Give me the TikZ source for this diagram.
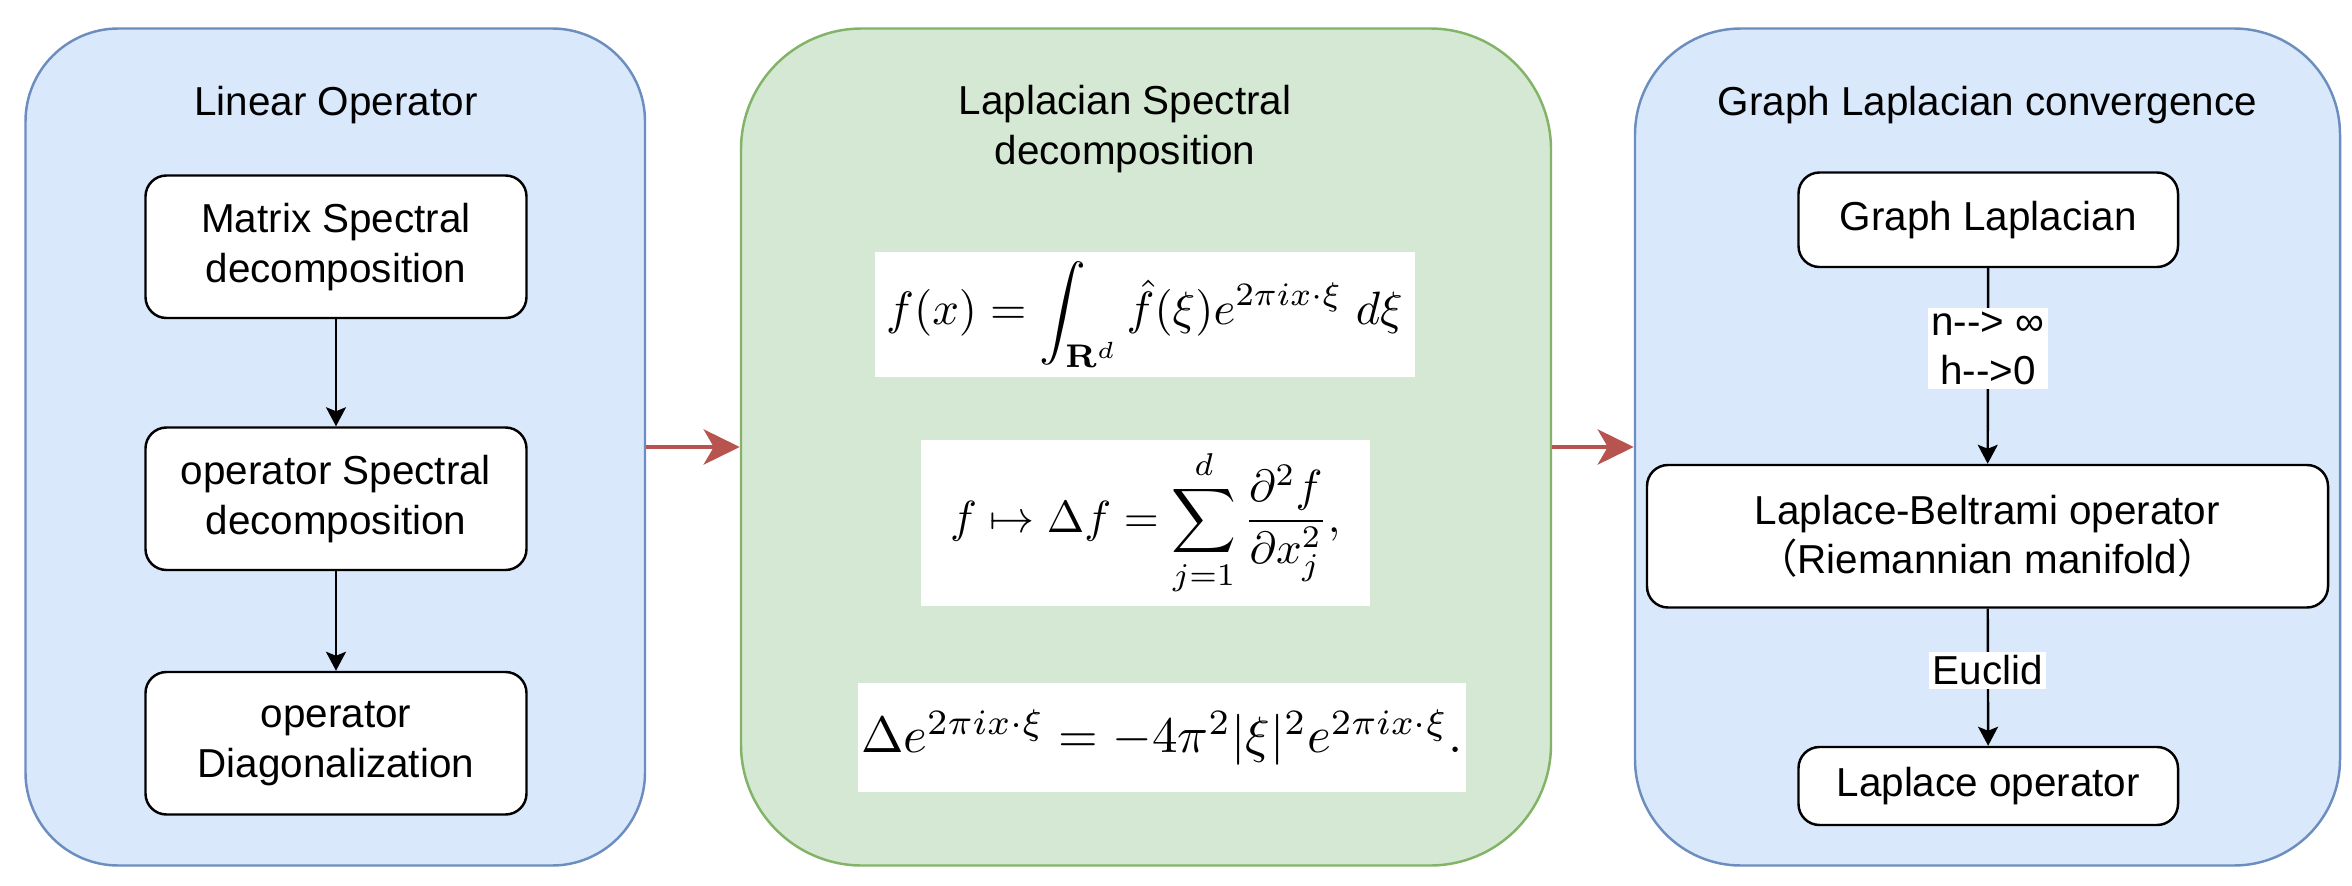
\documentclass[tikz,border=0pt]{standalone}
\usepackage{amsmath}
\usepackage[no-math]{fontspec}
\setmainfont{Liberation Sans}
\newfontfamily\cjk{Noto Sans CJK SC}
\usetikzlibrary{arrows.meta}
\definecolor{bluefill}{HTML}{DAE8FC}
\definecolor{blueline}{HTML}{6C8EBF}
\definecolor{greenfill}{HTML}{D5E8D4}
\definecolor{greenline}{HTML}{82B366}
\definecolor{arrowred}{HTML}{B85450}
\begin{document}
\begin{tikzpicture}[x=1cm,y=-1cm,font=\fontsize{11.5}{14.2}\selectfont,
    panel/.style={rounded corners=#1,line width=0.7pt,minimum height=8.37cm},
    blk/.style={draw,fill=white,rounded corners=0.21cm,align=center,line width=0.7pt,
      minimum width=3.81cm,minimum height=1.425cm,inner sep=0pt},
    eqn/.style={fill=white,inner sep=0pt,font=\fontsize{10}{12}\selectfont},
    arr/.style={-{Stealth[length=0.19cm,width=0.2cm,inset=0.04cm]},line width=0.7pt},
    bigarr/.style={-{Stealth[length=0.36cm,width=0.35cm,inset=0.1cm]},line width=1.4pt,draw=arrowred},
    lbl/.style={fill=white,inner sep=1pt,align=center}]
    \useasboundingbox (0,0) rectangle (23.52,8.86);
    \node[panel=0.93cm,draw=blueline,fill=bluefill,minimum width=6.195cm] (linpanel) at (3.3525,4.47) {};
    \node[panel=1.21cm,draw=greenline,fill=greenfill,minimum width=8.1cm] (lappanel) at (11.46,4.47) {};
    \node[panel=1.06cm,draw=blueline,fill=bluefill,minimum width=7.05cm] (graphpanel) at (19.875,4.47) {};
    \node (lintitle) at (3.36,1.05) {Linear Operator};
    \node[align=center] (laptitle) at (11.25,1.29) {Laplacian Spectral\\decomposition};
    \node (graphtitle) at (19.875,1.05) {Graph Laplacian convergence};
    \node[blk] (matrix) at (3.36,2.4675) {Matrix Spectral\\decomposition};
    \node[blk] (opspec) at (3.36,4.9875) {operator Spectral\\decomposition};
    \node[blk] (opdiag) at (3.36,7.4325) {operator\\Diagonalization};
    \node[eqn,minimum width=5.4cm,minimum height=1.245cm] (fourier) at (11.445,3.1425)
      {\scalebox{1.33}{$\displaystyle f(x)=\int_{\mathbf{R}^d}\hat{f}(\xi)e^{2\pi i x\cdot\xi}\;d\xi$}};
    \node[eqn,minimum width=4.485cm,minimum height=1.665cm] (lapsum) at (11.4525,5.2275)
      {\scalebox{1.28}{$\displaystyle f\mapsto\Delta f=\sum_{j=1}^{d}\frac{\partial^2 f}{\partial x_j^2},$}};
    \node[eqn,minimum width=6.075cm,minimum height=1.095cm] (eigen) at (11.6175,7.3725)
      {\scalebox{1.45}{$\Delta e^{2\pi i x\cdot\xi}=-4\pi^2|\xi|^2e^{2\pi i x\cdot\xi}.$}};
    \node[blk,minimum width=3.795cm,minimum height=0.945cm] (glap) at (19.8825,2.1975) {Graph Laplacian};
    \node[blk,minimum width=6.81cm] (lbop) at (19.875,5.3625) {Laplace-Beltrami operator\\{\cjk （}Riemannian manifold{\cjk ）}};
    \node[blk,minimum width=3.795cm,minimum height=0.78cm] (lapop) at (19.8825,7.86) {Laplace operator};
    \draw[arr] (matrix) -- (opspec);
    \draw[arr] (opspec) -- (opdiag);
    \draw[arr] (glap) -- node[lbl,pos=0.41] {n-{}-> ∞\\h-{}->0} (lbop);
    \draw[arr] (lbop) -- node[lbl,pos=0.45] {Euclid} (lapop);
    \draw[bigarr] (linpanel) -- (lappanel);
    \draw[bigarr] (lappanel) -- (graphpanel);
\end{tikzpicture}
\end{document}
